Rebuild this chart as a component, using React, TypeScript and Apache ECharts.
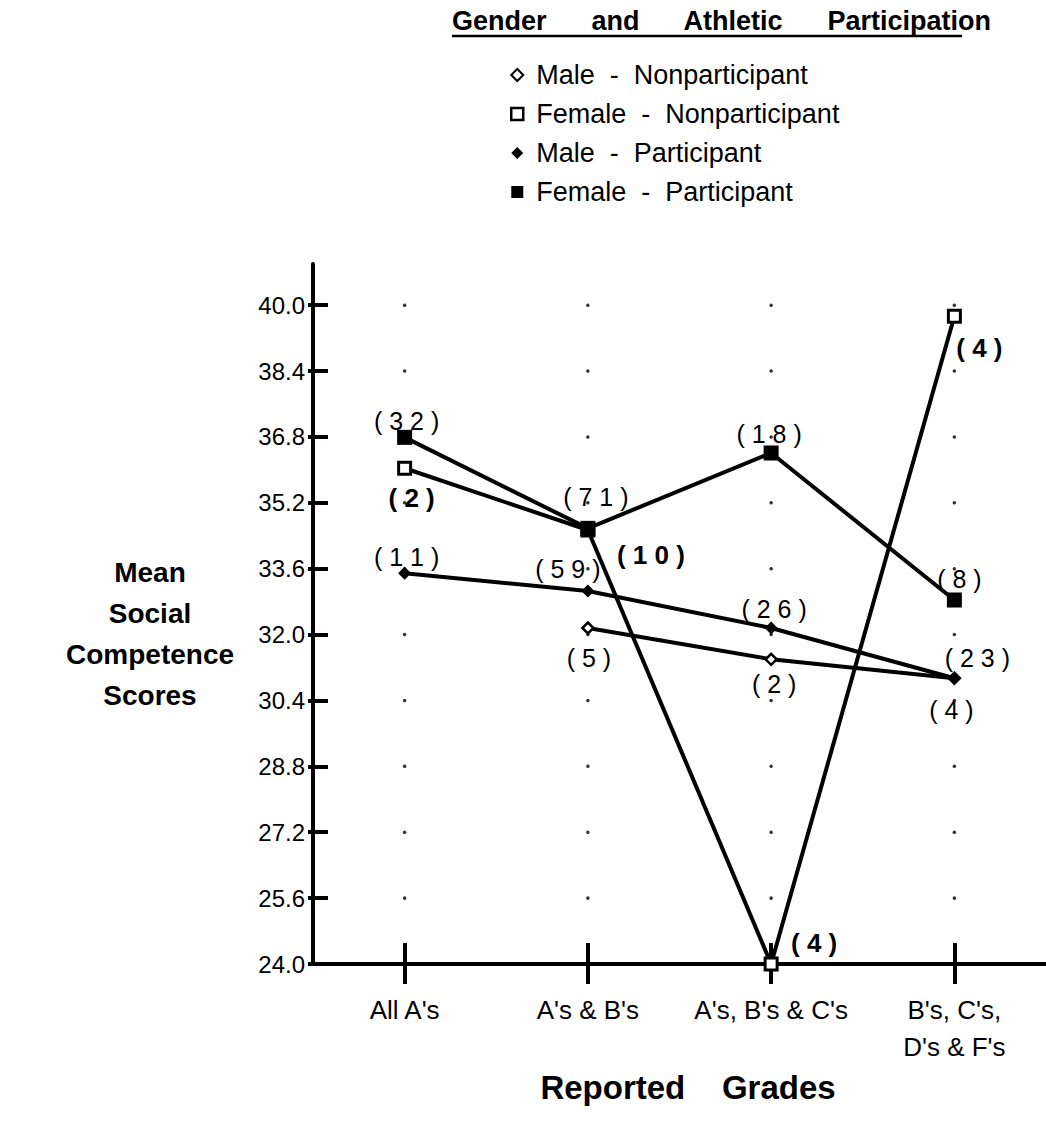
import React, { useEffect, useRef } from "react";
import * as echarts from "echarts";

const categories = ["All A's", "A's & B's", "A's, B's & C's", "B's, C's,\nD's & F's"];
const seriesNames = [
  "Male  -  Nonparticipant",
  "Female  -  Nonparticipant",
  "Male  -  Participant",
  "Female  -  Participant",
];
const maleNon = [null, 32.16, 31.4, 30.94];
const femaleNon = [36.04, 34.54, 24.0, 39.73];
const malePart = [33.49, 33.06, 32.16, 30.94];
const femalePart = [36.79, 34.58, 36.41, 32.84];
const maleNonN = [null, 5, 2, 4];
const femaleNonN = [2, 10, 4, 4];
const malePartN = [11, 59, 26, 23];
const femalePartN = [32, 71, 18, 8];
const yTicks = [24.0, 25.6, 27.2, 28.8, 30.4, 32.0, 33.6, 35.2, 36.8, 38.4, 40.0];
const yMin = 24;
const yMax = 41;

// label placement (layout only)
const maleNonOff = [null, [1, 30], [3, 25], [-3, 32]];
const femaleNonOff = [[7, 30], [63, 25], [43, -21], [25, 32]];
const malePartOff = [[2, -16], [-20, -22], [3, -19], [23, -20]];
const femalePartOff = [[2, -16], [8, -31], [-2, -19], [5, -21]];

const FONT = "'Liberation Sans', Arial, Helvetica, sans-serif";

function spaced(n: number) {
  return "( " + String(n).split("").join(" ") + " )";
}

function buildData(vals: (number | null)[], ns: (number | null)[], offs: any[], bold: boolean) {
  return vals.map((v, i) => {
    if (v === null) return null;
    return {
      value: v,
      label: {
        show: true,
        position: "inside",
        offset: offs[i],
        formatter: spaced(ns[i] as number),
        fontSize: bold ? 26 : 25,
        fontWeight: bold ? "bold" : "normal",
        fontFamily: FONT,
        color: "#000",
      },
    };
  });
}

export default function App() {
  const ref = useRef<HTMLDivElement>(null);
  useEffect(() => {
    document.body.style.margin = "0";
    const chart = echarts.init(ref.current as HTMLDivElement, null, { renderer: "svg" });
    const dots: number[][] = [];
    categories.forEach((_, ci) => {
      yTicks.slice(1).forEach((t) => dots.push([ci, t]));
    });
    const lineStyle = { color: "#000", width: 4 };
    const option: any = {
      animation: false,
      backgroundColor: "#fff",
      textStyle: { fontFamily: FONT, color: "#000" },
      grid: { left: 313, top: 264, width: 736, height: 700, containLabel: false },
      legend: {
        orient: "vertical",
        left: 505,
        top: 55,
        itemWidth: 12,
        itemHeight: 12,
        itemGap: 9,
        selectedMode: false,
        textStyle: { fontSize: 27, fontFamily: FONT, color: "#000", lineHeight: 30, padding: [0, 0, 0, 8] },
        data: [
          { name: seriesNames[0], icon: "diamond", itemStyle: { color: "#fff", borderColor: "#000", borderWidth: 2 } },
          { name: seriesNames[1], icon: "rect", itemStyle: { color: "#fff", borderColor: "#000", borderWidth: 2.5 } },
          { name: seriesNames[2], icon: "diamond", itemStyle: { color: "#000", borderColor: "#000", borderWidth: 0 } },
          { name: seriesNames[3], icon: "rect", itemStyle: { color: "#000", borderColor: "#000", borderWidth: 0 } },
        ],
      },
      xAxis: [
        {
          type: "category",
          data: categories,
          position: "bottom",
          boundaryGap: true,
          axisLine: { show: true, lineStyle: { color: "#000", width: 4 } },
          axisTick: { show: true, alignWithLabel: true, length: 20, lineStyle: { color: "#000", width: 4 } },
          axisLabel: { fontSize: 26, fontFamily: FONT, color: "#000", margin: 27, lineHeight: 37, interval: 0 },
          splitLine: { show: false },
        },
        {
          type: "category",
          data: categories,
          position: "bottom",
          boundaryGap: true,
          axisLine: { show: false },
          axisTick: { show: true, inside: true, alignWithLabel: true, length: 21, lineStyle: { color: "#000", width: 4 } },
          axisLabel: { show: false },
          splitLine: { show: false },
        },
      ],
      yAxis: [
        {
          type: "value",
          min: yMin,
          max: yMax,
          position: "left",
          axisLine: { show: true, lineStyle: { color: "#000", width: 4 } },
          axisTick: { show: true, length: 5, customValues: yTicks, lineStyle: { color: "#000", width: 4 } },
          axisLabel: {
            fontSize: 24,
            fontFamily: FONT,
            color: "#000",
            margin: 8,
            customValues: yTicks,
            formatter: (v: number) => v.toFixed(1),
          },
          splitLine: { show: false },
        },
        {
          type: "value",
          min: yMin,
          max: yMax,
          position: "left",
          axisLine: { show: false },
          axisTick: { show: true, inside: true, length: 15, customValues: yTicks, lineStyle: { color: "#000", width: 4 } },
          axisLabel: { show: false },
          splitLine: { show: false },
        },
      ],
      graphic: [
        {
          type: "text",
          left: 452,
          top: 7,
          style: {
            text: "Gender      and      Athletic      Participation",
            fontSize: 27,
            fontWeight: "bold",
            fontFamily: FONT,
            fill: "#000",
          },
        },
        {
          type: "line",
          shape: { x1: 452, y1: 36, x2: 962, y2: 36 },
          style: { stroke: "#000", lineWidth: 2.5 },
        },
        {
          type: "text",
          x: 150,
          y: 634,
          style: {
            text: "Mean\nSocial\nCompetence\nScores",
            fontSize: 28,
            fontWeight: "bold",
            fontFamily: FONT,
            fill: "#000",
            lineHeight: 41,
            align: "center",
            verticalAlign: "middle",
          },
        },
        {
          type: "text",
          x: 688,
          y: 1087,
          style: {
            text: "Reported    Grades",
            fontSize: 33,
            fontWeight: "bold",
            fontFamily: FONT,
            fill: "#000",
            align: "center",
            verticalAlign: "middle",
          },
        },
      ],
      series: [
        {
          name: "grid dots",
          type: "scatter",
          data: dots,
          symbol: "circle",
          symbolSize: 3.5,
          itemStyle: { color: "#000" },
          silent: true,
          z: 1,
        },
        {
          name: seriesNames[0],
          type: "line",
          data: buildData(maleNon, maleNonN, maleNonOff, false),
          symbol: "diamond",
          symbolSize: 11,
          lineStyle,
          itemStyle: { color: "#fff", borderColor: "#000", borderWidth: 2.5 },
          z: 3,
        },
        {
          name: seriesNames[1],
          type: "line",
          data: buildData(femaleNon, femaleNonN, femaleNonOff, true),
          symbol: "rect",
          symbolSize: 12,
          lineStyle,
          itemStyle: { color: "#fff", borderColor: "#000", borderWidth: 3 },
          z: 3,
        },
        {
          name: seriesNames[2],
          type: "line",
          data: buildData(malePart, malePartN, malePartOff, false),
          symbol: "diamond",
          symbolSize: 13,
          lineStyle,
          itemStyle: { color: "#000", borderColor: "#000", borderWidth: 0 },
          z: 3,
        },
        {
          name: seriesNames[3],
          type: "line",
          data: buildData(femalePart, femalePartN, femalePartOff, false),
          symbol: "rect",
          symbolSize: 15,
          lineStyle,
          itemStyle: { color: "#000", borderColor: "#000", borderWidth: 0 },
          z: 3,
        },
      ],
    };
    chart.setOption(option);
    return () => chart.dispose();
  }, []);
  return <div ref={ref} style={{ width: 1046, height: 1138 }} />;
}
